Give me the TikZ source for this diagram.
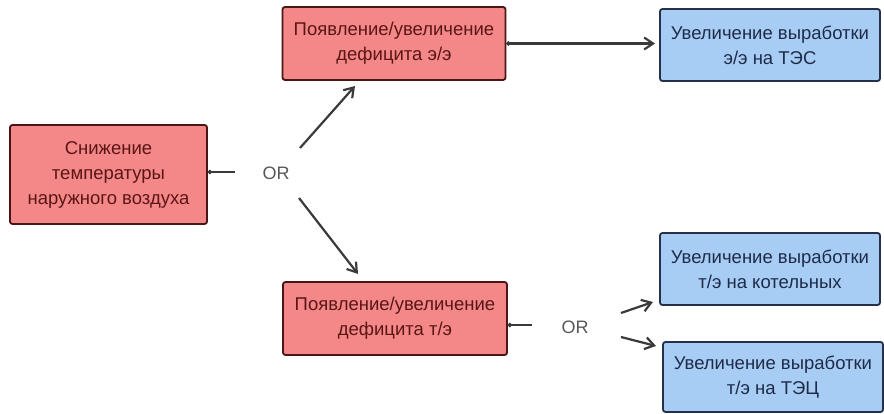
\documentclass[tikz,border=0pt]{standalone}
\usepackage{fontspec}
\setmainfont{Liberation Sans}
\usetikzlibrary{arrows.meta}
\definecolor{redfill}{HTML}{F48888}
\definecolor{redline}{HTML}{4A1515}
\definecolor{redtext}{HTML}{5A1515}
\definecolor{bluefill}{HTML}{A8CDF4}
\definecolor{blueline}{HTML}{263048}
\definecolor{bluetext}{HTML}{1E2A48}
\definecolor{linecol}{HTML}{3A3A3A}
\tikzset{
  x=1pt,y=-1pt,
  redbox/.style={draw=redline,line width=1.8pt,fill=redfill,rounded corners=2.5pt,text=redtext,align=center,inner sep=0pt,font=\fontsize{18.5}{25}\selectfont},
  bluebox/.style={draw=blueline,line width=1.8pt,fill=bluefill,rounded corners=2.5pt,text=bluetext,align=center,inner sep=0pt,font=\fontsize{18.5}{25}\selectfont},
  ortext/.style={text=linecol!85,font=\fontsize{18}{20}\selectfont,inner sep=0pt},
  conn/.style={draw=linecol,line width=2.2pt,-{Straight Barb[length=9pt,width=12pt,line width=2.2pt]}},
  stub/.style={draw=linecol,line width=2.2pt,-{Circle[length=4pt]}},
}
\begin{document}
\begin{tikzpicture}
\useasboundingbox (0,0) rectangle (884,414);
\node[redbox,minimum width=197pt,minimum height=99pt] (low) at (108.5,174.5) {Снижение\\температуры\\наружного воздуха};
\node[redbox,minimum width=223pt,minimum height=73pt] (de) at (394,43.5) {Появление/увеличение\\дефицита э/э};
\node[bluebox,minimum width=220pt,minimum height=72pt] (tes) at (770,45) {Увеличение выработки\\э/э на ТЭС};
\node[redbox,minimum width=224pt,minimum height=73pt] (dt) at (395,318.5) {Появление/увеличение\\дефицита т/э};
\node[bluebox,minimum width=220pt,minimum height=72pt] (kot) at (770,269) {Увеличение выработки\\т/э на котельных};
\node[bluebox,minimum width=220pt,minimum height=70pt] (tec) at (773,377) {Увеличение выработки\\т/э на ТЭЦ};
\node[ortext] (or1) at (276,173) {OR};
\node[ortext] (or2) at (575,327) {OR};
\coordinate (o1l) at (235,172);
\coordinate (o1u) at (300,148);
\coordinate (o1d) at (299,198);
\coordinate (o2l) at (532,325);
\coordinate (o2u) at (621,313);
\coordinate (o2d) at (621,337);
\draw[stub] (o1l) -- (low.east |- o1l);
\draw[conn] (o1u) -- (355,86);
\draw[conn] (o1d) -- (358,274);
\draw[draw=linecol,line width=2.2pt,{Circle[length=4pt]}-{Straight Barb[length=9pt,width=12pt,line width=2.2pt]}] (de.east) -- ([xshift=-4pt]tes.west |- de.east);
\draw[stub] (o2l) -- (dt.east |- o2l);
\draw[conn] (o2u) -- (653,302);
\draw[conn] (o2d) -- (656,346);
\end{tikzpicture}
\end{document}
